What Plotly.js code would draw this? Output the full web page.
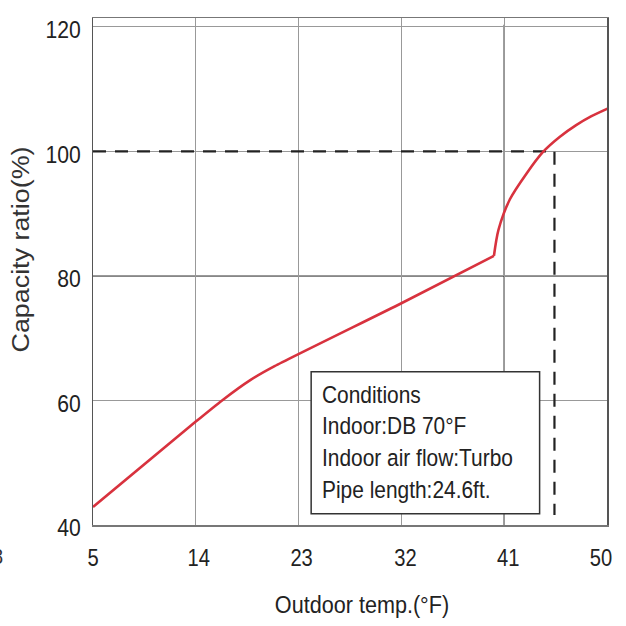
<!DOCTYPE html>
<html>
<head>
<meta charset="utf-8">
<script src="https://cdn.plot.ly/plotly-3.0.1.min.js"></script>
<style>html,body{margin:0;padding:0;background:#fff;}#chart{width:626px;height:626px;}</style>
</head>
<body>
<div id="chart"></div>
<script>
// Capacity curve (outdoor temp °F -> capacity ratio %), lower branch and upper branch meet at the kink
const lowerTemps = [5, 14, 16.3, 18.8, 20.9, 32, 40.1];
const lowerCapacity = [42.9, 56.6, 60, 63.3, 65.5, 75.6, 83.2];
const upperTemps = [40.1, 40.5, 41.5, 42.96, 44.4, 45.85, 47.3, 48.6, 50.1];
const upperCapacity = [83.2, 87.4, 92.3, 96.45, 99.9, 102.3, 104.2, 105.6, 106.9];
// Reference dashed line (100% capacity point)
const refTemps = [5, 45.4, 45.4];
const refCapacity = [100, 100, 41.6];
const xTicks = [5, 14, 23, 32, 41, 50];
const yTicks = [40, 60, 80, 100, 120];
const conditionLines = ["Conditions", "Indoor:DB 70°F", "Indoor air flow:Turbo", "Pipe length:24.6ft."];

const sans = "Liberation Sans, Arial, sans-serif";
const red = '#d8323e';

const traces = [
  {x: refTemps, y: refCapacity, mode: 'lines', line: {color: '#222', width: 2.2, dash: '13px,9px'}, hoverinfo: 'skip'},
  {x: lowerTemps, y: lowerCapacity, mode: 'lines', line: {color: red, width: 2.6, shape: 'spline', smoothing: 0.5}, hoverinfo: 'skip'},
  {x: upperTemps, y: upperCapacity, mode: 'lines', line: {color: red, width: 2.6, shape: 'spline', smoothing: 0.8}, cliponaxis: false, hoverinfo: 'skip'}
];

const shapes = [
  {type: 'line', xref: 'x', yref: 'y', x0: 41, x1: 41, y0: 40, y1: 120.3, line: {color: '#111', width: 1.2}, layer: 'below'},
  {type: 'line', xref: 'x', yref: 'y', x0: 5, x1: 50, y0: 80, y1: 80, line: {color: '#111', width: 1.2}, layer: 'below'},
  {type: 'rect', xref: 'x', yref: 'y', x0: 24.1, x1: 44.1, y0: 41.8, y1: 64.6, line: {color: '#333', width: 1.5}, fillcolor: '#fff', layer: 'above'}
];

const annotations = conditionLines.map((t, i) => ({
  text: t, xref: 'x', yref: 'y', x: 24.85, y: 60.9 - i * 5.07, xanchor: 'left', yanchor: 'middle', align: 'left',
  showarrow: false, font: {family: sans, size: 23.5, color: '#222'}
}));
annotations.push({text: '8', xref: 'paper', yref: 'paper', x: -0.172, y: -0.063, xanchor: 'right', yanchor: 'middle', align: 'right', showarrow: false, font: {family: sans, size: 22, color: '#333'}});

const layout = {
  width: 626, height: 626,
  margin: {l: 93, r: 19, t: 18, b: 101},
  paper_bgcolor: '#fff', plot_bgcolor: '#fff',
  showlegend: false,
  xaxis: {
    range: [5, 50], tickvals: xTicks, ticktext: xTicks.map(String), ticks: '', ticklabelstandoff: 11,
    showgrid: true, gridcolor: '#999', gridwidth: 1.2, zeroline: false,
    showline: true, linecolor: '#777', linewidth: 1.5, mirror: true,
    tickfont: {family: sans, size: 24, color: '#222'},
    title: {text: 'Outdoor temp.(°F)', font: {family: sans, size: 24, color: '#222'}, standoff: 26}
  },
  yaxis: {
    range: [40, 121.4], tickvals: yTicks, ticktext: yTicks.map(String), ticks: '', ticklabelstandoff: 6,
    showgrid: true, gridcolor: '#999', gridwidth: 1.2, zeroline: false,
    showline: true, linecolor: '#555', linewidth: 1.5, mirror: true,
    tickfont: {family: sans, size: 23.5, color: '#222'},
    title: {text: 'Capacity ratio(%)', font: {family: sans, size: 24, color: '#333'}, standoff: 8}
  },
  shapes: shapes,
  annotations: annotations
};

// horizontally scale text around its anchor to imitate the narrow typeface of the original
function stretchText(selector, sx, dx, dy) {
  document.querySelectorAll('#chart ' + selector).forEach((t, i) => {
    const x = parseFloat(t.getAttribute('x')) || 0;
    const tr = t.getAttribute('transform') || '';
    const ddx = Array.isArray(dx) ? (dx[i] || 0) : (dx || 0);
    t.setAttribute('transform', tr + ' translate(' + (x + ddx) + ',' + (dy || 0) + ') scale(' + sx + ',1) translate(' + (-x) + ',0)');
  });
}

Plotly.newPlot('chart', traces, layout, {staticPlot: true, displayModeBar: false}).then(() => {
  stretchText('.xtick text', 0.84, [0, 3, 3, 4, 4, -6], 0);
  stretchText('.ytick text', 0.9, 0, 3);
  stretchText('.xtitle', 0.9, 12, 0);
  stretchText('.ytitle', 1.12, 22, 3);
  stretchText('.annotation-text', 0.89, 0, 0);
});
</script>
</body>
</html>
